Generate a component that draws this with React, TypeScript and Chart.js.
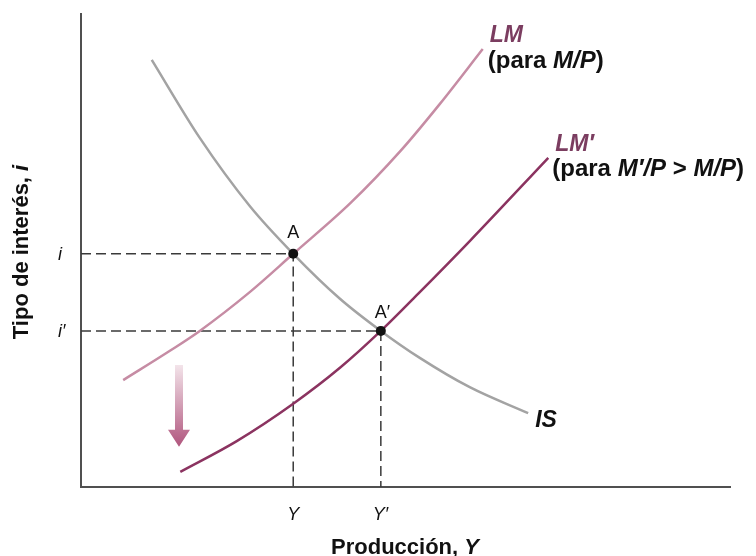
import React, { useEffect, useRef } from "react";
import { Chart, registerables } from "chart.js";

Chart.register(...registerables);

// Curve data (output Y on x, interest rate i on y)
const isX = [1.09, 1.83, 2.6, 3.27, 3.99, 4.62, 5.22, 5.99, 6.89];
const isY = [9.03, 7.38, 5.94, 4.93, 3.98, 3.3, 2.73, 2.11, 1.56];
const lmX = [0.65, 1.37, 1.83, 2.6, 3.27, 4.15, 4.92, 5.53, 6.19];
const lmY = [2.26, 2.88, 3.3, 4.12, 4.93, 6.0, 7.1, 8.1, 9.26];
const lm2X = [1.53, 2.4, 3.27, 3.99, 4.62, 5.22, 5.99, 7.2];
const lm2Y = [0.32, 0.97, 1.76, 2.52, 3.3, 4.12, 5.2, 6.96];

// Equilibria A and A'
const eqX = [3.27, 4.62];
const eqY = [4.93, 3.3];
const eqLabels = ["A", "A′"];
const yTickLabels = ["i", "i′"];
const xTickLabels = ["Y", "Y′"];

// Downward shift arrow
const arrowX = 1.51;
const arrowTop = 2.58;
const arrowBottom = 0.85;

const FONT = '"Liberation Sans", Arial, Helvetica, sans-serif';
const MAUVE = "#7b3d60";
const LM_COLOR = "#c68ca4";
const LM2_COLOR = "#8b3360";
const IS_COLOR = "#a3a3a3";

type Run = { text: string; font: string; color: string };

function drawRuns(
  ctx: CanvasRenderingContext2D,
  runs: Run[],
  x: number,
  y: number,
  align: "left" | "center" | "right"
) {
  let total = 0;
  runs.forEach((r) => {
    ctx.font = r.font;
    total += ctx.measureText(r.text).width;
  });
  let cx = align === "center" ? x - total / 2 : align === "right" ? x - total : x;
  ctx.textAlign = "left";
  ctx.textBaseline = "alphabetic";
  runs.forEach((r) => {
    ctx.font = r.font;
    ctx.fillStyle = r.color;
    ctx.fillText(r.text, cx, y);
    cx += ctx.measureText(r.text).width;
  });
}

const zip = (xs: number[], ys: number[]) => xs.map((x, i) => ({ x, y: ys[i] }));

const labelsPlugin = {
  id: "islmLabels",
  afterDatasetsDraw(chart: any) {
    const ctx: CanvasRenderingContext2D = chart.ctx;
    const xs = chart.scales.x;
    const ys = chart.scales.y;
    const px = (v: number) => xs.getPixelForValue(v);
    const py = (v: number) => ys.getPixelForValue(v);
    const B = `bold 22px ${FONT}`;
    const BI = `italic bold 22px ${FONT}`;
    const B24 = `bold 24px ${FONT}`;
    const BI24 = `italic bold 24px ${FONT}`;
    const BI23 = `italic bold 23px ${FONT}`;
    const N = `18px ${FONT}`;
    const I = `italic 18px ${FONT}`;
    const K = "#111";

    ctx.save();

    // Arrow
    const ax = px(arrowX);
    const at = py(arrowTop);
    const ab = py(arrowBottom);
    const grad = ctx.createLinearGradient(0, at, 0, ab);
    grad.addColorStop(0, "#f3e4ea");
    grad.addColorStop(1, "#b0557d");
    ctx.fillStyle = grad;
    const headLen = 17;
    ctx.beginPath();
    ctx.moveTo(ax - 4, at);
    ctx.lineTo(ax + 4, at);
    ctx.lineTo(ax + 4, ab - headLen);
    ctx.lineTo(ax + 11, ab - headLen);
    ctx.lineTo(ax, ab);
    ctx.lineTo(ax - 11, ab - headLen);
    ctx.lineTo(ax - 4, ab - headLen);
    ctx.closePath();
    ctx.fill();

    // Equilibrium labels
    ctx.font = N;
    const wA = ctx.measureText("A").width;
    drawRuns(ctx, [{ text: eqLabels[0], font: N, color: K }], px(eqX[0]), py(eqY[0]) - 16, "center");
    drawRuns(ctx, [{ text: eqLabels[1], font: N, color: K }], px(eqX[1]) - wA / 2, py(eqY[1]) - 13, "left");

    // i labels
    yTickLabels.forEach((t, k) => {
      drawRuns(ctx, [{ text: t, font: I, color: K }], 58, py(eqY[k]) + 6, "left");
    });
    // Y labels
    xTickLabels.forEach((t, k) => {
      const x0 = px(eqX[k]);
      if (k === 0) drawRuns(ctx, [{ text: t, font: I, color: K }], x0, xs.bottom + 33, "center");
      else {
        ctx.font = I;
        const wY = ctx.measureText("Y").width;
        drawRuns(ctx, [{ text: t, font: I, color: K }], x0 - wY / 2 - 2, xs.bottom + 33, "left");
      }
    });

    // Axis titles
    drawRuns(
      ctx,
      [
        { text: "Producción, ", font: B, color: K },
        { text: "Y", font: BI, color: K },
      ],
      405,
      554,
      "center"
    );
    ctx.save();
    ctx.translate(28, 252);
    ctx.rotate(-Math.PI / 2);
    drawRuns(
      ctx,
      [
        { text: "Tipo de interés, ", font: B, color: K },
        { text: "i", font: BI, color: K },
      ],
      0,
      0,
      "center"
    );
    ctx.restore();

    // Curve labels
    const lmEnd = { x: px(lmX[lmX.length - 1]), y: py(lmY[lmY.length - 1]) };
    drawRuns(ctx, [{ text: "LM", font: BI23, color: MAUVE }], lmEnd.x + 7, lmEnd.y - 7, "left");
    drawRuns(
      ctx,
      [
        { text: "(para ", font: B24, color: K },
        { text: "M/P", font: BI24, color: K },
        { text: ")", font: B24, color: K },
      ],
      lmEnd.x + 5,
      lmEnd.y + 19,
      "left"
    );
    const lm2End = { x: px(lm2X[lm2X.length - 1]), y: py(lm2Y[lm2Y.length - 1]) };
    drawRuns(ctx, [{ text: "LM′", font: BI23, color: MAUVE }], lm2End.x + 7, lm2End.y - 7, "left");
    drawRuns(
      ctx,
      [
        { text: "(para ", font: B24, color: K },
        { text: "M′/P", font: BI24, color: K },
        { text: " > ", font: B24, color: K },
        { text: "M/P", font: BI24, color: K },
        { text: ")", font: B24, color: K },
      ],
      lm2End.x + 4,
      lm2End.y + 18,
      "left"
    );
    const isEnd = { x: px(isX[isX.length - 1]), y: py(isY[isY.length - 1]) };
    drawRuns(ctx, [{ text: "IS", font: BI23, color: K }], isEnd.x + 7, isEnd.y + 14, "left");

    ctx.restore();
  },
};

export default function App() {
  const ref = useRef<HTMLCanvasElement | null>(null);

  useEffect(() => {
    if (!ref.current) return;
    const dashed = eqX.map((x, k) => ({
      data: [
        { x: 0, y: eqY[k] },
        { x, y: eqY[k] },
        { x, y: 0 },
      ],
      borderColor: "#3a3a3a",
      borderWidth: 1.5,
      borderDash: [10, 5],
      pointRadius: 0,
      tension: 0,
      order: 3,
    }));
    const curve = (xs: number[], ysv: number[], color: string, order: number) => ({
      data: zip(xs, ysv),
      borderColor: color,
      borderWidth: 2.5,
      pointRadius: 0,
      cubicInterpolationMode: "monotone",
      order,
    });
    const chart = new Chart(ref.current, {
      type: "line",
      data: {
        datasets: [
          {
            data: eqX.map((x, k) => ({ x, y: eqY[k] })),
            showLine: false,
            pointRadius: 5,
            pointBackgroundColor: "#111",
            pointBorderColor: "#111",
            pointBorderWidth: 0,
            order: 0,
          },
          curve(isX, isY, IS_COLOR, 2),
          curve(lmX, lmY, LM_COLOR, 1),
          curve(lm2X, lm2Y, LM2_COLOR, 1),
          ...dashed,
        ] as any,
      },
      options: {
        animation: false,
        responsive: false,
        devicePixelRatio: 1,
        layout: { padding: { left: 81, top: 14, right: 26, bottom: 69 } },
        plugins: {
          legend: { display: false },
          tooltip: { enabled: false },
        },
        elements: { line: { borderCapStyle: "butt" } },
        scales: {
          x: {
            type: "linear",
            min: 0,
            max: 10,
            ticks: { display: false },
            grid: { display: false, drawTicks: false },
            border: { display: true, color: "#505050", width: 2 },
          },
          y: {
            type: "linear",
            min: 0,
            max: 10,
            ticks: { display: false },
            grid: { display: false, drawTicks: false },
            border: { display: true, color: "#505050", width: 2 },
          },
        },
      } as any,
      plugins: [labelsPlugin],
    });
    return () => chart.destroy();
  }, []);

  return (
    <div style={{ position: "absolute", left: 0, top: 0, width: 756, height: 556, background: "#fff" }}>
      <canvas ref={ref} width={756} height={556} style={{ display: "block", width: 756, height: 556 }} />
    </div>
  );
}
